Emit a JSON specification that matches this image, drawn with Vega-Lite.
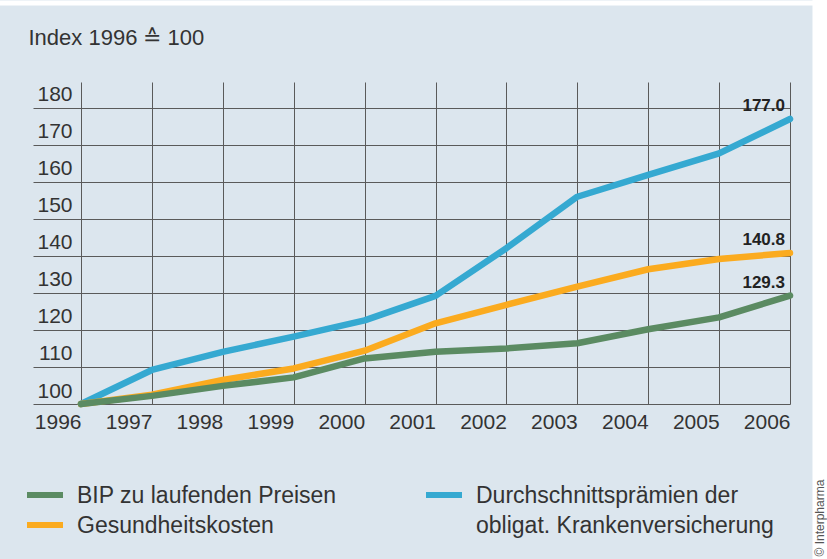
{
  "$schema": "https://vega.github.io/schema/vega-lite/v6.json",
  "width": 709,
  "height": 322,
  "autosize": {"type": "none"},
  "padding": {"left": 81, "top": 82, "right": 37, "bottom": 155},
  "background": "#dce6ee",
  "config": {
    "view": {"stroke": null},
    "font": "Liberation Sans"
  },
  "data": {
    "values": [
      {"series": "Durchschnittsprämien der obligat. Krankenversicherung", "year": 1996, "value": 100.0},
      {"series": "Durchschnittsprämien der obligat. Krankenversicherung", "year": 1997, "value": 109.2},
      {"series": "Durchschnittsprämien der obligat. Krankenversicherung", "year": 1998, "value": 114.1},
      {"series": "Durchschnittsprämien der obligat. Krankenversicherung", "year": 1999, "value": 118.2},
      {"series": "Durchschnittsprämien der obligat. Krankenversicherung", "year": 2000, "value": 122.6},
      {"series": "Durchschnittsprämien der obligat. Krankenversicherung", "year": 2001, "value": 129.2},
      {"series": "Durchschnittsprämien der obligat. Krankenversicherung", "year": 2002, "value": 142.1},
      {"series": "Durchschnittsprämien der obligat. Krankenversicherung", "year": 2003, "value": 156.0},
      {"series": "Durchschnittsprämien der obligat. Krankenversicherung", "year": 2004, "value": 161.9},
      {"series": "Durchschnittsprämien der obligat. Krankenversicherung", "year": 2005, "value": 167.7},
      {"series": "Durchschnittsprämien der obligat. Krankenversicherung", "year": 2006, "value": 177.0},
      {"series": "Gesundheitskosten", "year": 1996, "value": 100.0},
      {"series": "Gesundheitskosten", "year": 1997, "value": 102.5},
      {"series": "Gesundheitskosten", "year": 1998, "value": 106.5},
      {"series": "Gesundheitskosten", "year": 1999, "value": 109.6},
      {"series": "Gesundheitskosten", "year": 2000, "value": 114.4},
      {"series": "Gesundheitskosten", "year": 2001, "value": 121.8},
      {"series": "Gesundheitskosten", "year": 2002, "value": 126.8},
      {"series": "Gesundheitskosten", "year": 2003, "value": 131.7},
      {"series": "Gesundheitskosten", "year": 2004, "value": 136.4},
      {"series": "Gesundheitskosten", "year": 2005, "value": 139.2},
      {"series": "Gesundheitskosten", "year": 2006, "value": 140.8},
      {"series": "BIP zu laufenden Preisen", "year": 1996, "value": 100.0},
      {"series": "BIP zu laufenden Preisen", "year": 1997, "value": 102.2},
      {"series": "BIP zu laufenden Preisen", "year": 1998, "value": 104.9},
      {"series": "BIP zu laufenden Preisen", "year": 1999, "value": 107.2},
      {"series": "BIP zu laufenden Preisen", "year": 2000, "value": 112.3},
      {"series": "BIP zu laufenden Preisen", "year": 2001, "value": 114.1},
      {"series": "BIP zu laufenden Preisen", "year": 2002, "value": 115.0},
      {"series": "BIP zu laufenden Preisen", "year": 2003, "value": 116.4},
      {"series": "BIP zu laufenden Preisen", "year": 2004, "value": 120.2},
      {"series": "BIP zu laufenden Preisen", "year": 2005, "value": 123.4},
      {"series": "BIP zu laufenden Preisen", "year": 2006, "value": 129.3}
    ]
  },
  "resolve": {"axis": {"y": "independent", "x": "independent"}},
  "layer": [
    {
      "mark": {"type": "line", "strokeWidth": 6.5, "strokeCap": "round", "strokeJoin": "round"},
      "encoding": {
        "x": {
          "field": "year",
          "type": "quantitative",
          "scale": {"domain": [1996, 2006], "nice": false, "zero": false},
          "axis": {
            "title": null,
            "values": [1996, 1997, 1998, 1999, 2000, 2001, 2002, 2003, 2004, 2005, 2006],
            "format": "d",
            "grid": true,
            "gridColor": "#5a5a5a",
            "gridWidth": 1,
            "domain": false,
            "ticks": false,
            "tickSize": 0,
            "labelAlign": "right",
            "labelBaseline": "top",
            "labelDx": -1,
            "labelPadding": 7,
            "labelFlush": false,
            "labelOverlap": false,
            "labelBound": false,
            "labelFont": "Liberation Sans",
            "labelFontSize": 21,
            "labelColor": "#333333"
          }
        },
        "y": {
          "field": "value",
          "type": "quantitative",
          "scale": {"domain": [100, 187], "nice": false, "zero": false},
          "axis": {
            "title": "Index 1996 ≙ 100",
            "titleAngle": 0,
            "titleAlign": "left",
            "titleBaseline": "alphabetic",
            "titleX": -53,
            "titleY": -38,
            "titleFont": "Liberation Sans",
            "titleFontSize": 22,
            "titleFontWeight": "normal",
            "titleColor": "#333333",
            "values": [100, 110, 120, 130, 140, 150, 160, 170, 180],
            "grid": true,
            "gridColor": "#5a5a5a",
            "gridWidth": 1,
            "domain": false,
            "ticks": true,
            "tickSize": 48,
            "tickColor": "#5a5a5a",
            "tickWidth": 1,
            "labelAlign": "right",
            "labelBaseline": "alphabetic",
            "labelPadding": -39,
            "labelOffset": -7,
            "labelFlush": false,
            "labelOverlap": false,
            "labelBound": false,
            "labelFont": "Liberation Sans",
            "labelFontSize": 21,
            "labelColor": "#333333"
          }
        },
        "color": {
          "field": "series",
          "type": "nominal",
          "scale": {
            "domain": ["BIP zu laufenden Preisen", "Durchschnittsprämien der obligat. Krankenversicherung", "Gesundheitskosten"],
            "range": ["#5b8b62", "#35a9d1", "#fbab1f"]
          },
          "legend": {
            "title": null,
            "orient": "none",
            "legendX": -57,
            "legendY": 392,
            "direction": "horizontal",
            "columns": 2,
            "gridAlign": "none",
            "columnPadding": 77,
            "rowPadding": -34,
            "padding": 0,
            "symbolType": "stroke",
            "symbolSize": 1296,
            "symbolStrokeWidth": 6,
            "labelFont": "Liberation Sans",
            "labelFontSize": 23,
            "labelColor": "#333333",
            "labelOffset": 11,
            "labelLimit": 500,
            "labelBaseline": "alphabetic",
            "labelExpr": "datum.label == 'Durchschnittsprämien der obligat. Krankenversicherung' ? ['Durchschnittsprämien der', 'obligat. Krankenversicherung'] : datum.label",
            "encode": {
              "labels": {"update": {"dy": {"value": 8}, "lineHeight": {"value": 30}}}
            }
          }
        }
      }
    },
    {
      "transform": [{"filter": "datum.year == 2006"}],
      "mark": {
        "type": "text",
        "align": "right",
        "baseline": "alphabetic",
        "dx": -5,
        "dy": -8,
        "font": "Liberation Sans",
        "fontSize": 17,
        "fontWeight": "bold",
        "color": "#222222"
      },
      "encoding": {
        "x": {
          "field": "year",
          "type": "quantitative",
          "axis": {
            "orient": "top",
            "values": [2001],
            "offset": 77,
            "domain": false,
            "grid": false,
            "labels": false,
            "ticks": true,
            "tickSize": 5,
            "tickWidth": 2000,
            "tickColor": "#ffffff",
            "title": null
          }
        },
        "y": {
          "field": "value",
          "type": "quantitative",
          "axis": {
            "orient": "right",
            "values": [140],
            "offset": 22,
            "domain": false,
            "ticks": true,
            "tickSize": 15,
            "tickWidth": 1400,
            "tickColor": "#ffffff",
            "labels": false,
            "grid": false,
            "title": "© Interpharma",
            "titleAngle": 270,
            "titleAlign": "left",
            "titleBaseline": "top",
            "titleX": 2,
            "titleY": 474,
            "titleFont": "Liberation Sans",
            "titleFontSize": 12,
            "titleFontWeight": "normal",
            "titleColor": "#555555"
          }
        },
        "text": {"field": "value", "type": "quantitative", "format": ".1f"}
      }
    }
  ]
}
